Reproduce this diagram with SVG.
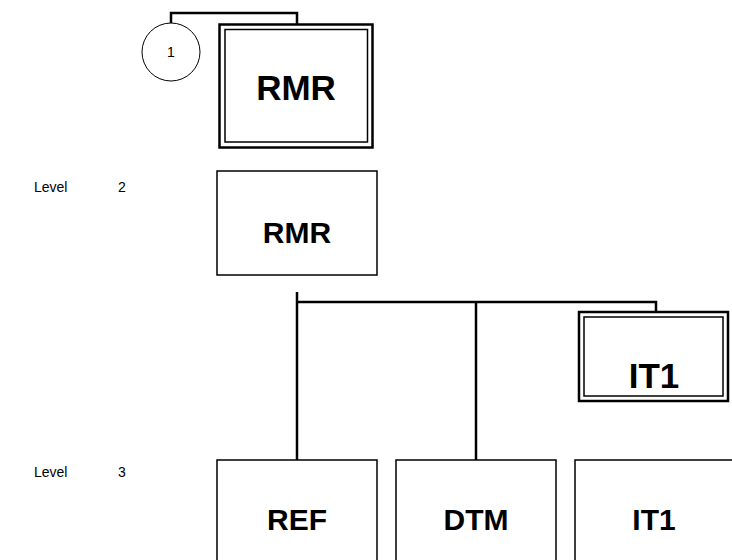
<svg xmlns="http://www.w3.org/2000/svg" width="732" height="560" viewBox="0 0 732 560">
<style>
.box{fill:#fff;stroke:#000;stroke-width:1.5}
.outer{fill:#fff;stroke:#000;stroke-width:2.5}
.inner{fill:none;stroke:#000;stroke-width:1.5}
.lbl{font-family:"Liberation Sans",Arial,sans-serif;font-weight:bold;text-anchor:middle;fill:#000}
.lvl{font-family:"Liberation Sans",Arial,sans-serif;font-size:14px;fill:#000}
.conn{fill:none;stroke:#000;stroke-width:2.5}
</style>
<rect width="732" height="560" fill="#fff"/>
<g id="connectors">
<polyline class="conn" points="171,23 171,13 297,13 297,24"/>
<polyline class="conn" points="297,292 297,460"/>
<polyline class="conn" points="297,302 656,302 656,312"/>
<polyline class="conn" points="476,302 476,460"/>
</g>
<g id="ref1">
<circle cx="171" cy="52" r="29" fill="#fff" stroke="#000" stroke-width="1"/>
<text class="lvl" x="171" y="57" text-anchor="middle">1</text>
</g>
<g id="rmr-top">
<rect class="outer" x="219.5" y="24.5" width="153" height="123"/>
<rect class="inner" x="225" y="29.5" width="142.5" height="112.5"/>
<text class="lbl" x="296" y="100" font-size="35">RMR</text>
</g>
<g id="level2"><text class="lvl" x="34" y="192">Level</text><text class="lvl" x="118" y="192">2</text></g>
<g id="rmr">
<rect class="box" x="217" y="171" width="160" height="104"/>
<text class="lbl" x="297" y="243" font-size="30">RMR</text>
</g>
<g id="it1-ref">
<rect class="outer" x="579" y="312" width="149" height="89"/>
<rect class="inner" x="584" y="317" width="139" height="79"/>
<text class="lbl" x="654" y="388" font-size="35">IT1</text>
</g>
<g id="level3"><text class="lvl" x="34" y="477">Level</text><text class="lvl" x="118" y="477">3</text></g>
<g id="ref">
<rect class="box" x="217" y="460" width="160" height="110"/>
<text class="lbl" x="297" y="530" font-size="30">REF</text>
</g>
<g id="dtm">
<rect class="box" x="396" y="460" width="160" height="110"/>
<text class="lbl" x="476" y="530" font-size="30">DTM</text>
</g>
<g id="it1">
<rect class="box" x="575" y="460" width="170" height="110"/>
<text class="lbl" x="654" y="530" font-size="30">IT1</text>
</g>
</svg>
